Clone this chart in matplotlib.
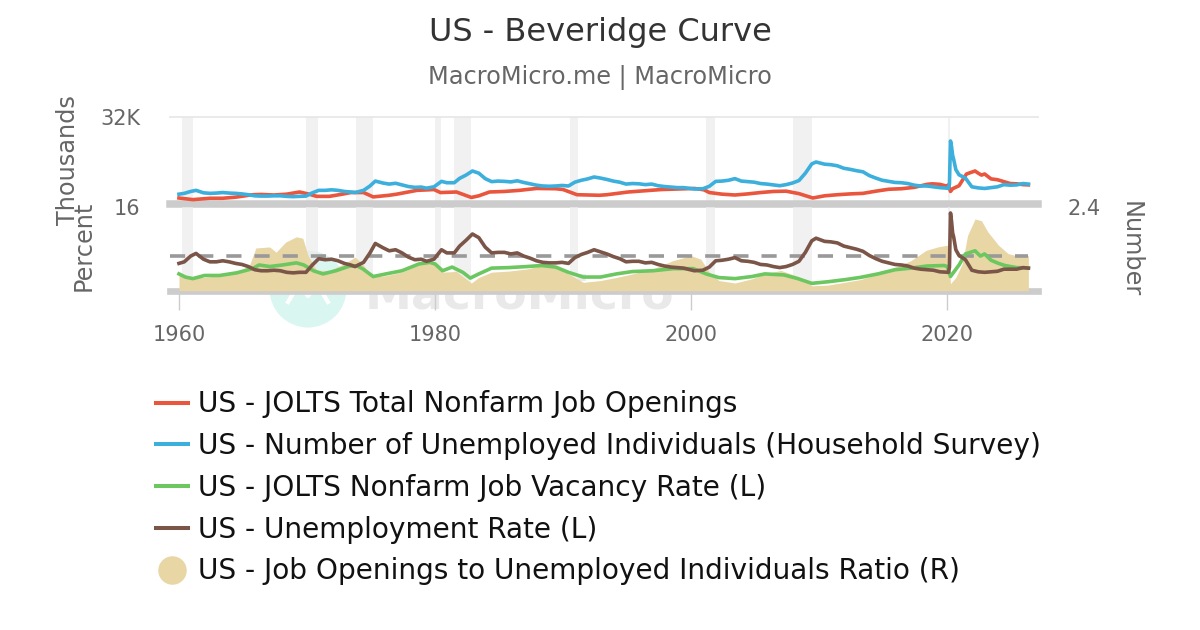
import matplotlib
matplotlib.use("Agg")
import matplotlib.pyplot as plt
from matplotlib.lines import Line2D
from matplotlib.patches import Ellipse

# ---------------- data ----------------
openings_dates = ["1960-01", "1961-02", "1962-06", "1963-06", "1964-06", "1965-10", "1966-06", "1967-06",
                  "1968-06", "1969-06", "1970-03", "1970-10", "1971-10", "1972-10", "1973-06", "1974-06",
                  "1975-03", "1976-06", "1977-01", "1978-08", "1979-12", "1980-06", "1981-09", "1982-11",
                  "1983-06", "1984-04", "1985-06", "1986-08", "1987-12", "1989-06", "1990-01", "1991-02",
                  "1992-11", "1993-06", "1995-02", "1997-09", "2000-04", "2001-01", "2001-06", "2002-06",
                  "2003-06", "2004-06", "2005-06", "2006-06", "2007-06", "2008-06", "2009-07", "2010-06",
                  "2011-06", "2012-06", "2013-06", "2014-06", "2015-06", "2016-06", "2017-06", "2018-06",
                  "2018-11", "2019-06", "2019-12", "2020-02", "2020-04", "2020-06", "2020-12", "2021-04",
                  "2021-07", "2022-03", "2022-06", "2022-09", "2022-12", "2023-06", "2023-12", "2024-06",
                  "2024-12", "2025-06", "2025-12", "2026-05"]
openings_k = [2200, 1600, 2100, 2100, 2500, 3400, 3500, 3300,
              3600, 4400, 3600, 2800, 2800, 3600, 4200, 4200,
              2600, 3200, 3600, 5000, 5300, 4200, 4400, 2400,
              3000, 4400, 4600, 5000, 5700, 5600, 5300, 3400,
              3200, 3400, 4400, 5300, 5700, 5200, 4200, 3600,
              3300, 3700, 4200, 4600, 4700, 3800, 2200, 3000,
              3400, 3700, 3900, 4700, 5400, 5600, 6100, 7200,
              7400, 7200, 6600, 7000, 4600, 5600, 6700, 9200,
              11000, 12100, 11300, 10600, 11000, 9200, 8900, 8200,
              7500, 7400, 7100, 7000]

unemployed_dates = ["1960-01", "1960-06", "1960-12", "1961-05", "1961-12", "1962-06", "1962-12", "1963-06",
                    "1963-12", "1964-06", "1964-12", "1965-06", "1965-12", "1966-06", "1966-12", "1967-06",
                    "1967-12", "1968-06", "1968-12", "1969-06", "1969-12", "1970-06", "1970-12", "1971-06",
                    "1971-12", "1972-06", "1972-12", "1973-06", "1973-10", "1974-06", "1974-12", "1975-05",
                    "1975-12", "1976-06", "1976-12", "1977-06", "1977-12", "1978-06", "1978-12", "1979-05",
                    "1979-12", "1980-07", "1980-12", "1981-07", "1981-12", "1982-06", "1982-12", "1983-06",
                    "1983-12", "1984-06", "1984-12", "1985-06", "1985-12", "1986-06", "1986-12", "1987-06",
                    "1987-12", "1988-06", "1988-12", "1989-06", "1989-12", "1990-06", "1990-12", "1991-06",
                    "1991-12", "1992-06", "1992-12", "1993-06", "1993-12", "1994-06", "1994-12", "1995-06",
                    "1995-12", "1996-06", "1996-12", "1997-06", "1997-12", "1998-06", "1998-12", "1999-06",
                    "1999-12", "2000-04", "2000-12", "2001-06", "2001-12", "2002-06", "2002-12", "2003-06",
                    "2003-12", "2004-06", "2004-12", "2005-06", "2005-12", "2006-06", "2006-12", "2007-06",
                    "2007-12", "2008-06", "2008-12", "2009-06", "2009-10", "2010-06", "2010-12", "2011-06",
                    "2011-12", "2012-06", "2012-12", "2013-06", "2013-12", "2014-06", "2014-12", "2015-06",
                    "2015-12", "2016-06", "2016-12", "2017-06", "2017-12", "2018-06", "2018-12", "2019-06",
                    "2020-01", "2020-02", "2020-03", "2020-04", "2020-05", "2020-06", "2020-07", "2020-09",
                    "2020-12", "2021-06", "2021-12", "2022-06", "2022-12", "2023-06", "2023-12", "2024-06",
                    "2024-12", "2025-06", "2025-12", "2026-05"]
unemployed_k = [3600, 3900, 4600, 5000, 4100, 3900, 4000, 4200,
                4000, 3900, 3700, 3400, 3000, 2900, 2900, 3000,
                3000, 2800, 2700, 2800, 2900, 4100, 5000, 5000,
                5200, 5000, 4600, 4400, 4200, 5000, 6600, 8400,
                7700, 7300, 7600, 7000, 6400, 6100, 6200, 5800,
                6300, 8300, 7800, 7800, 9400, 10600, 12100, 11300,
                9300, 8200, 8400, 8300, 8100, 8500, 7900, 7400,
                6900, 6600, 6500, 6600, 6800, 6600, 8000, 8700,
                9200, 9900, 9500, 9000, 8400, 8000, 7300, 7500,
                7400, 7100, 7300, 6700, 6400, 6200, 6000, 6000,
                5700, 5500, 5600, 6500, 8300, 8400, 8700, 9300,
                8400, 8200, 8000, 7500, 7300, 7000, 6700, 7100,
                7700, 8600, 11300, 14700, 15400, 14600, 14400, 14000,
                13100, 12700, 12200, 11800, 10400, 9500, 8700, 8300,
                7900, 7800, 7500, 6900, 6600, 6600, 6300, 6000,
                5800, 5700, 7200, 23100, 21000, 17800, 16300, 12600,
                10700, 9500, 6300, 5900, 5700, 6000, 6300, 7100,
                6900, 7000, 7500, 7300]

vacancy_dates = ["1960-01", "1960-07", "1961-02", "1962-01", "1963-03", "1964-07", "1965-10", "1966-04",
                 "1967-02", "1968-02", "1969-03", "1969-10", "1970-07", "1971-04", "1972-04", "1973-05",
                 "1973-12", "1974-05", "1975-03", "1976-03", "1977-06", "1978-10", "1979-08", "1980-01",
                 "1980-08", "1981-05", "1982-03", "1982-10", "1983-06", "1984-06", "1985-10", "1987-03",
                 "1988-05", "1989-06", "1990-06", "1991-08", "1992-12", "1994-03", "1995-06", "1997-01",
                 "1998-08", "2000-03", "2001-03", "2002-03", "2003-06", "2004-10", "2005-10", "2007-04",
                 "2008-05", "2009-06", "2010-09", "2012-01", "2013-04", "2014-08", "2015-12", "2017-03",
                 "2018-06", "2019-10", "2020-01", "2020-04", "2020-12", "2021-06", "2022-03", "2022-08",
                 "2022-12", "2023-06", "2024-01", "2024-07", "2025-06", "2026-05"]
vacancy_rate = [3.2, 2.6, 2.3, 2.9, 2.9, 3.4, 4.2, 4.9,
                4.6, 4.9, 5.3, 4.9, 3.8, 3.2, 3.8, 4.7,
                4.7, 4.2, 2.7, 3.2, 3.8, 5.1, 5.4, 5.1,
                3.8, 4.5, 3.5, 2.4, 3.2, 4.3, 4.4, 4.6,
                4.8, 4.5, 3.5, 2.6, 2.6, 3.2, 3.65, 3.8,
                4.2, 4.2, 3.2, 2.5, 2.3, 2.7, 3.2, 3.0,
                2.3, 1.4, 1.7, 2.1, 2.55, 3.2, 4.0, 4.3,
                4.7, 4.8, 4.6, 2.7, 4.9, 7.0, 7.6, 6.6,
                7.0, 5.8, 5.2, 4.8, 4.4, 4.3]

urate_dates = ["1960-01", "1960-06", "1960-12", "1961-05", "1961-12", "1962-06", "1962-12", "1963-06",
               "1963-12", "1964-06", "1964-12", "1965-06", "1965-12", "1966-06", "1966-12", "1967-06",
               "1967-12", "1968-06", "1968-12", "1969-06", "1969-12", "1970-06", "1970-12", "1971-06",
               "1971-12", "1972-06", "1972-12", "1973-06", "1973-10", "1974-06", "1974-12", "1975-05",
               "1975-12", "1976-06", "1976-12", "1977-06", "1977-12", "1978-06", "1978-12", "1979-05",
               "1979-12", "1980-07", "1980-12", "1981-07", "1981-12", "1982-06", "1982-12", "1983-06",
               "1983-12", "1984-06", "1984-12", "1985-06", "1985-12", "1986-06", "1986-12", "1987-06",
               "1987-12", "1988-06", "1988-12", "1989-06", "1989-12", "1990-06", "1990-12", "1991-06",
               "1991-12", "1992-06", "1992-12", "1993-06", "1993-12", "1994-06", "1994-12", "1995-06",
               "1995-12", "1996-06", "1996-12", "1997-06", "1997-12", "1998-06", "1998-12", "1999-06",
               "1999-12", "2000-04", "2000-12", "2001-06", "2001-12", "2002-06", "2002-12", "2003-06",
               "2003-12", "2004-06", "2004-12", "2005-06", "2005-12", "2006-06", "2006-12", "2007-06",
               "2007-12", "2008-06", "2008-12", "2009-06", "2009-10", "2010-06", "2010-12", "2011-06",
               "2011-12", "2012-06", "2012-12", "2013-06", "2013-12", "2014-06", "2014-12", "2015-06",
               "2015-12", "2016-06", "2016-12", "2017-06", "2017-12", "2018-06", "2018-12", "2019-06",
               "2020-02", "2020-03", "2020-04", "2020-05", "2020-06", "2020-07", "2020-09", "2020-12",
               "2021-06", "2021-12", "2022-06", "2022-12", "2023-06", "2023-12", "2024-06", "2024-12",
               "2025-06", "2025-12", "2026-05"]
urate = [5.2, 5.5, 6.6, 7.1, 6.0, 5.5, 5.5, 5.7,
         5.5, 5.2, 5.0, 4.6, 4.0, 3.8, 3.8, 3.9,
         3.8, 3.5, 3.4, 3.5, 3.5, 4.9, 6.1, 5.9,
         6.0, 5.7, 5.2, 4.9, 4.6, 5.4, 7.2, 9.0,
         8.2, 7.6, 7.8, 7.2, 6.4, 5.9, 6.0, 5.6,
         6.0, 7.8, 7.2, 7.2, 8.5, 9.6, 10.8, 10.1,
         8.3, 7.2, 7.3, 7.3, 7.0, 7.2, 6.6, 6.2,
         5.7, 5.4, 5.3, 5.3, 5.4, 5.2, 6.3, 6.9,
         7.3, 7.8, 7.4, 7.0, 6.5, 6.1, 5.5, 5.6,
         5.6, 5.3, 5.4, 5.0, 4.7, 4.5, 4.4, 4.3,
         4.0, 3.8, 3.9, 4.5, 5.7, 5.8, 6.0, 6.3,
         5.7, 5.6, 5.4, 5.0, 4.9, 4.6, 4.4, 4.6,
         5.0, 5.6, 7.3, 9.5, 10.0, 9.4, 9.3, 9.1,
         8.5, 8.2, 7.9, 7.5, 6.7, 6.1, 5.6, 5.3,
         5.0, 4.9, 4.7, 4.3, 4.1, 4.0, 3.9, 3.6,
         3.5, 4.4, 14.8, 13.2, 11.0, 10.2, 7.8, 6.7,
         5.9, 3.9, 3.6, 3.5, 3.6, 3.7, 4.1, 4.1,
         4.1, 4.4, 4.3]

ratio_dates = ["1960-01", "1960-11", "1961-12", "1963-03", "1964-07", "1965-07", "1966-01", "1967-02",
               "1967-08", "1968-05", "1969-03", "1969-09", "1970-02", "1970-10", "1971-10", "1972-12",
               "1973-10", "1974-05", "1975-02", "1976-03", "1977-06", "1979-02", "1979-12", "1980-08",
               "1981-09", "1982-11", "1983-06", "1984-06", "1985-10", "1987-03", "1988-05", "1989-06",
               "1990-06", "1991-08", "1992-12", "1994-03", "1995-06", "1997-01", "1998-08", "2000-01",
               "2000-10", "2001-06", "2002-03", "2003-06", "2004-10", "2005-10", "2007-01", "2008-03",
               "2008-12", "2009-06", "2010-09", "2012-01", "2013-04", "2014-08", "2015-12", "2017-03",
               "2018-05", "2019-04", "2020-01", "2020-04", "2020-09", "2021-03", "2021-08", "2022-03",
               "2022-09", "2023-03", "2024-01", "2024-10", "2025-06", "2026-05"]
ratio = [0.53, 0.38, 0.38, 0.43, 0.53, 0.72, 1.22, 1.25,
         1.10, 1.39, 1.54, 1.50, 1.00, 0.58, 0.58, 0.77,
         0.96, 0.77, 0.38, 0.43, 0.53, 0.80, 0.82, 0.53,
         0.55, 0.22, 0.38, 0.53, 0.56, 0.62, 0.72, 0.70,
         0.48, 0.24, 0.29, 0.38, 0.48, 0.62, 0.86, 1.00,
         0.90, 0.53, 0.29, 0.22, 0.34, 0.48, 0.58, 0.43,
         0.29, 0.14, 0.16, 0.24, 0.32, 0.48, 0.67, 0.86,
         1.15, 1.25, 1.30, 0.20, 0.38, 0.77, 1.58, 2.05,
         2.00, 1.68, 1.30, 1.06, 1.00, 1.00]

recession_starts = ["1960-04", "1969-12", "1973-11", "1980-01", "1981-07", "1990-07", "2001-03", "2007-12", "2020-02"]
recession_ends = ["1961-02", "1970-11", "1975-03", "1980-07", "1982-11", "1991-03", "2001-11", "2009-06", "2020-04"]

x_ticks = [1960, 1980, 2000, 2020]
ratio_ref_level = 1.0

series_labels = ["US - JOLTS Total Nonfarm Job Openings",
                 "US - Number of Unemployed Individuals (Household Survey)",
                 "US - JOLTS Nonfarm Job Vacancy Rate (L)",
                 "US - Unemployment Rate (L)",
                 "US - Job Openings to Unemployed Individuals Ratio (R)"]


def dec_year(s):
    y, m = s.split("-")
    return int(y) + (int(m) - 1) / 12.0


def xs(dates):
    return [dec_year(d) for d in dates]


# ---------------- styling ----------------
RED = "#e9553d"
BLUE = "#3cafdc"
GREEN = "#6cc760"
BROWN = "#7a5548"
TAN = "#e8d6a5"
BAR = "#cccccc"
REC = "#ececec"

W, H = 1200, 630
fig = plt.figure(figsize=(12, 6.3), dpi=100)
fig.patch.set_facecolor("white")


def fx(px):
    return px / W


def fy(py):
    return 1 - py / H


left_px, right_px = 170, 1037.7
XL = (1959.30, 2027.06)

ax_top = fig.add_axes([fx(left_px), fy(204), fx(right_px) - fx(left_px), (204 - 116.7) / H])
ax_bot = fig.add_axes([fx(left_px), fy(290.7), fx(right_px) - fx(left_px), (290.7 - 206.7) / H])
ax_r = ax_bot.twinx()
ax_r.set_zorder(0)
ax_bot.set_zorder(1)
for a in (ax_top, ax_bot, ax_r):
    a.patch.set_visible(False)
    for sp in a.spines.values():
        sp.set_visible(False)
    a.set_xlim(*XL)

# recession bands
for s, e in zip(recession_starts, recession_ends):
    ax_top.axvspan(dec_year(s), dec_year(e), color=REC, alpha=0.7, lw=0, zorder=0)
    ax_r.axvspan(dec_year(s), dec_year(e), color=REC, alpha=0.7, lw=0, zorder=0)

# top panel
ax_top.set_ylim(0, 32000)
ax_top.axhline(32000, color="#e6e6e6", lw=1.2, zorder=0.5, clip_on=False)
ax_top.axhline(0, color=BAR, lw=5.4, zorder=1, clip_on=False)
ax_top.plot(xs(openings_dates), openings_k, color=RED, lw=2.6, zorder=3, solid_joinstyle="round")
ax_top.plot(xs(unemployed_dates), unemployed_k, color=BLUE, lw=2.6, zorder=4, solid_joinstyle="round")
ax_top.set_xticks([])
ax_top.set_yticks([32000])
ax_top.set_yticklabels(["32K"])
ax_top.tick_params(axis="y", length=0, pad=21.6, labelsize=15, labelcolor="#666666")

# bottom panel: right axis (ratio) underneath
ax_r.set_ylim(0, 2.4)
ax_r.axhline(0, color=BAR, lw=4.8, zorder=1, clip_on=False)
ax_r.fill_between(xs(ratio_dates), 0, ratio, color=TAN, lw=0, zorder=2)
ax_r.hlines(ratio_ref_level, XL[0], dec_year(ratio_dates[-1]), colors="#999999", lw=2.6,
            linestyles=(0, (4.2, 3.6)), zorder=3)
ax_r.set_yticks([2.4])
ax_r.set_yticklabels(["2.4"])
ax_r.tick_params(axis="y", length=0, pad=21.6, labelsize=15, labelcolor="#666666")

# bottom panel: left axis (percent)
ax_bot.set_ylim(0, 16)
ax_bot.plot(xs(vacancy_dates), vacancy_rate, color=GREEN, lw=2.6, zorder=3, solid_joinstyle="round")
ax_bot.plot(xs(urate_dates), urate, color=BROWN, lw=2.6, zorder=4, solid_joinstyle="round")
ax_bot.set_yticks([16])
ax_bot.set_yticklabels(["16"])
ax_bot.tick_params(axis="y", length=0, pad=21.6, labelsize=15, labelcolor="#666666")
ax_bot.set_xticks(x_ticks)
ax_bot.set_xticklabels([str(t) for t in x_ticks])
ax_bot.tick_params(axis="x", length=14, width=1.0, color=BAR, pad=10.5, labelsize=15, labelcolor="#666666")

# axis titles
fig.text(fx(68), fy(160), "Thousands", rotation=90, ha="center", va="center", fontsize=17.3, color="#666666")
fig.text(fx(84), fy(246), "Percent", rotation=90, ha="center", va="center", fontsize=17.3, color="#666666")
fig.text(fx(1131), fy(249), "Number", rotation=270, ha="center", va="center", fontsize=17.3, color="#666666")

# title and subtitle
fig.text(0.5, fy(33), "US - Beveridge Curve", ha="center", va="center", fontsize=23, color="#333333")
fig.text(0.5, fy(77), "MacroMicro.me | MacroMicro", ha="center", va="center", fontsize=17.3, color="#666666")

# watermark (behind everything)
fig.add_artist(Ellipse((fx(308), fy(289)), 77 / W, 77 / H, transform=fig.transFigure,
                       facecolor="#d9f6f0", edgecolor="none", zorder=-5))
fig.add_artist(Line2D([fx(288), fx(299), fx(308), fx(317), fx(328)],
                      [fy(302), fy(284), fy(296), fy(284), fy(302)],
                      transform=fig.transFigure, color="white", lw=3, zorder=-4))
fig.text(fx(365), fy(296), "MacroMicro", ha="left", va="center", fontsize=34, fontweight="bold",
         color="#e9e9e9", zorder=-5)

# legend
handles = [Line2D([], [], color=RED, lw=2.9),
           Line2D([], [], color=BLUE, lw=2.9),
           Line2D([], [], color=GREEN, lw=2.9),
           Line2D([], [], color=BROWN, lw=2.9),
           Line2D([], [], ls="none", marker="o", markersize=19.5, markerfacecolor=TAN, markeredgecolor=TAN)]
fig.legend(handles, series_labels, loc="upper left", bbox_to_anchor=(fx(156), fy(390.5)),
           frameon=False, fontsize=20.2, handlelength=1.13, handletextpad=0.35, labelspacing=0.49,
           borderpad=0, borderaxespad=0, labelcolor="#111111")

fig.savefig("out.png", dpi=100)
